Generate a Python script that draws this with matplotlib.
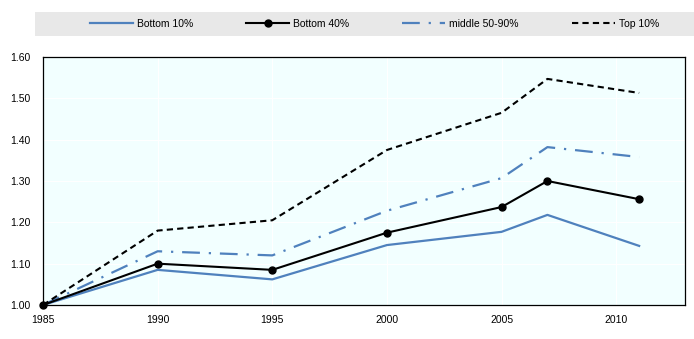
import matplotlib.pyplot as plt
from matplotlib.patches import Rectangle

plt.rcParams['font.family'] = ['Liberation Sans', 'DejaVu Sans']

years = [1985, 1990, 1995, 2000, 2005, 2007, 2011]
bottom10 = [1.00, 1.085, 1.062, 1.145, 1.177, 1.218, 1.143]
bottom40 = [1.00, 1.100, 1.085, 1.175, 1.237, 1.300, 1.256]
middle = [1.00, 1.130, 1.120, 1.228, 1.307, 1.382, 1.358]
top10 = [1.00, 1.180, 1.205, 1.375, 1.465, 1.547, 1.513]

xticks = [1985, 1990, 1995, 2000, 2005, 2010]
yticks = [1.00, 1.10, 1.20, 1.30, 1.40, 1.50, 1.60]

blue = '#4f81bd'

fig = plt.figure(figsize=(6.94, 3.39), dpi=100, facecolor='white')
ax = fig.add_axes([43 / 694, 1 - 305 / 339, 642 / 694, 248 / 339])
ax.set_facecolor('#f2ffff')

ax.plot(years, bottom10, color=blue, lw=1.6, label='Bottom 10%')
ax.plot(years, bottom40, color='black', lw=1.5, marker='o', ms=5,
        label='Bottom 40%', clip_on=False, zorder=4)
ax.plot(years, middle, color=blue, lw=1.6, dashes=(8, 4, 1, 4),
        label='middle 50-90%')
ax.plot(years, top10, color='black', lw=1.5, dashes=(3, 2),
        label='Top 10%')

ax.set_xlim(1985, 2013)
ax.set_ylim(1.0, 1.6)
ax.set_xticks(xticks)
ax.set_yticks(yticks)
ax.set_yticklabels(['%.2f' % v for v in yticks])
ax.tick_params(length=0, labelsize=7.5, colors='black')
ax.tick_params(axis='x', pad=7)
ax.tick_params(axis='y', pad=9)
ax.grid(True, color='white', lw=0.8)
for s in ax.spines.values():
    s.set_linewidth(0.9)
    s.set_color('black')
ax.set_axisbelow(True)

# grey band behind the legend
fig.patches.append(Rectangle((35 / 694, 1 - 36 / 339), 659 / 694, 24 / 339,
                             transform=fig.transFigure, facecolor='#e8e8e8',
                             edgecolor='none', zorder=0))
fig.legend(loc='center left', bbox_to_anchor=(90 / 694, 1 - 24 / 339),
           ncol=4, frameon=False, fontsize=7.5, handlelength=4.1,
           handletextpad=0.4, columnspacing=5.1, borderaxespad=0,
           borderpad=0)

fig.savefig('out.png', dpi=100)
